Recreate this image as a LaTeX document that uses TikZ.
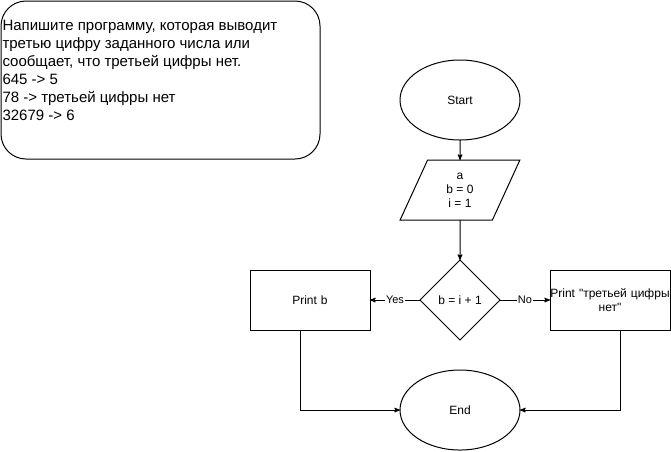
\documentclass[tikz,border=0pt]{standalone}
\usepackage{fontspec}
\setmainfont{Liberation Sans}
\usepackage{tikz}
\usetikzlibrary{arrows}
\usetikzlibrary{positioning}
\usetikzlibrary{shapes.geometric}

\begin{document}
\begin{tikzpicture}[x=1pt,y=-1pt,->,>=stealth',line width=1pt,
  font=\fontsize{12}{14}\selectfont,
  term node/.style={ellipse,draw,minimum width=120pt,minimum height=80pt,inner sep=0pt,outer sep=0pt},
  io node/.style={trapezium,trapezium left angle=71.6,trapezium right angle=108.4,trapezium stretches=true,draw,minimum width=120pt,minimum height=60pt,inner sep=0pt,outer sep=0pt,align=center},
  cond node/.style={diamond,draw,minimum width=80pt,minimum height=80pt,inner sep=0pt,outer sep=0pt,aspect=1},
  act node/.style={rectangle,draw,minimum width=120pt,minimum height=60pt,inner sep=0pt,outer sep=0pt,text width=120pt,align=center},
  edge label/.style={fill=white,inner sep=1pt,font=\fontsize{11}{13}\selectfont}]

  \useasboundingbox (0,0) rectangle (671,451);

  % task text
  \node[draw,rounded corners=25pt,minimum width=319pt,minimum height=158pt,outer sep=0pt,-] (task) at (160.5,80) {};
  \node[anchor=north west,inner sep=0pt,align=left,font=\fontsize{15}{18}\selectfont] (tasktext) at (2,20)
    {Напишите программу, которая выводит\\третью цифру заданного числа или\\сообщает, что третьей цифры нет.\\645 -> 5\\78 -> третьей цифры нет\\32679 -> 6};

  % flowchart
  \node[term node] (start) at (460,100) {Start};
  \node[io node] (input) [below=20pt of start] {a\\b = 0\\i = 1};
  \node[cond node] (check) [below=40pt of input] {b = i + 1};
  \node[act node] (printb) [left=50pt of check] {Print b};
  \node[act node] (printno) [right=50pt of check] {Print \textquotedbl третьей цифры\\нет\textquotedbl};
  \node[term node] (end) [below=30pt of check] {End};

  \draw (start) -- (input);
  \draw (input) -- (check);
  \draw (check) -- node[edge label] {Yes} (printb);
  \draw (check) -- node[edge label] {No} (printno);
  \draw ([xshift=-10pt]printb.south) |- (end);
  \draw ([xshift=10pt]printno.south) |- (end);
\end{tikzpicture}
\end{document}
